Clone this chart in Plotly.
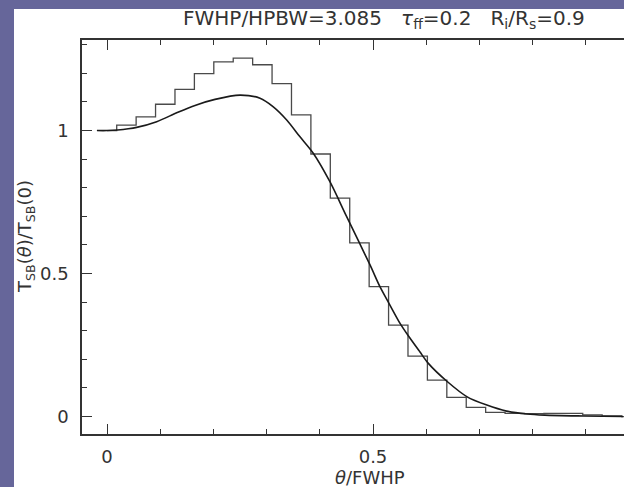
import plotly.graph_objects as go

# Histogram (binned model), bin centres in theta/FWHP
hist_x = [0.0, 0.0365, 0.073, 0.1095, 0.146, 0.1825, 0.219, 0.2555, 0.292, 0.3285,
          0.365, 0.4015, 0.438, 0.4745, 0.511, 0.5475, 0.584, 0.6205, 0.657, 0.6935,
          0.730, 0.7665, 0.803, 0.8395, 0.876, 0.9125, 0.949, 0.9855]
hist_y = [1.0, 1.019, 1.048, 1.092, 1.144, 1.199, 1.240, 1.253, 1.230, 1.164,
          1.055, 0.918, 0.764, 0.607, 0.454, 0.320, 0.2115, 0.1276, 0.067, 0.032,
          0.0147, 0.011, 0.010, 0.011, 0.011, 0.006, 0.002, 0.0]

# Smooth model curve
curve_x = [-0.019, 0.0, 0.02, 0.04, 0.0558, 0.0934, 0.131, 0.1654, 0.203, 0.25,
           0.2876, 0.3126, 0.3378, 0.3628, 0.388, 0.419, 0.4505, 0.4944, 0.513,
           0.530, 0.5508, 0.5677, 0.588, 0.604, 0.640, 0.677, 0.714, 0.751, 0.789,
           0.823, 0.895, 0.970]
curve_y = [1.0, 1.0, 1.002, 1.006, 1.011, 1.031, 1.062, 1.088, 1.109, 1.124,
           1.113, 1.083, 1.037, 0.978, 0.920, 0.821, 0.699, 0.530, 0.454,
           0.396, 0.326, 0.279, 0.2266, 0.186, 0.1217, 0.069, 0.040, 0.019, 0.009,
           0.005, 0.002, 0.0]

x_ticks = [0, 0.5]
y_ticks = [0, 0.5, 1]

INK = "#333333"
FONT = "DejaVu Sans, Liberation Sans, sans-serif"
BORDER = "#66669a"

fig = go.Figure()
fig.add_trace(go.Scatter(x=hist_x, y=hist_y, mode="lines",
                         line=dict(shape="hvh", color="#4a4a4a", width=1.3),
                         showlegend=False, hoverinfo="skip"))
fig.add_trace(go.Scatter(x=curve_x, y=curve_y, mode="lines",
                         line=dict(shape="spline", smoothing=0.8, color="#1a1a1a", width=1.6),
                         showlegend=False, hoverinfo="skip"))

L, R, T, B = 82, 0, 40, 53
W, H = 624, 487
pw, ph = W - L - R, H - T - B


def px_x(p):
    return (p - L) / pw


def px_y(p):
    return (H - B - p) / ph


fig.update_layout(
    width=W, height=H,
    margin=dict(l=L, r=R, t=T, b=B, pad=0),
    paper_bgcolor="white",
    plot_bgcolor="white",
    font=dict(family=FONT, color=INK, size=18),
    shapes=[
        dict(type="rect", xref="paper", yref="paper",
             x0=px_x(-2), x1=px_x(14), y0=px_y(H + 2), y1=px_y(-2),
             fillcolor=BORDER, line=dict(width=0), layer="below"),
        dict(type="rect", xref="paper", yref="paper",
             x0=px_x(-2), x1=px_x(W + 2), y0=px_y(9), y1=px_y(-2),
             fillcolor=BORDER, line=dict(width=0), layer="below"),
    ],
    xaxis=dict(range=[-0.047, 0.9718], tickvals=x_ticks, ticks="inside", ticklen=10,
               tickwidth=1.2, tickcolor=INK, showline=True, linecolor=INK, linewidth=1.5,
               mirror="ticks", showgrid=False, zeroline=False,
               minor=dict(dtick=0.1, tick0=0, ticks="inside", ticklen=5, tickwidth=1.2,
                          tickcolor=INK, showgrid=False),
               tickfont=dict(size=18, color=INK, family=FONT), ticklabelstandoff=6),
    yaxis=dict(range=[-0.061, 1.3166], tickvals=y_ticks, ticks="inside", ticklen=10,
               tickwidth=1.2, tickcolor=INK, showline=True, linecolor=INK, linewidth=1.5,
               mirror=False, showgrid=False, zeroline=False,
               minor=dict(dtick=0.1, tick0=0, ticks="inside", ticklen=5, tickwidth=1.2,
                          tickcolor=INK, showgrid=False),
               tickfont=dict(size=18, color=INK, family=FONT), ticklabelstandoff=8),
    annotations=[
        dict(xref="paper", yref="paper", x=px_x(384), y=px_y(19),
             xanchor="center", yanchor="middle", showarrow=False,
             text="FWHP/HPBW=3.085\u00a0\u00a0\u00a0<i>τ</i><sub>ff</sub>=0.2"
                  "\u00a0\u00a0\u00a0R<sub>i</sub>/R<sub>s</sub>=0.9",
             font=dict(size=20, color=INK, family=FONT)),
        dict(xref="paper", yref="paper", x=px_x(370), y=px_y(477),
             xanchor="center", yanchor="middle", showarrow=False,
             text="<i>θ</i>/FWHP", font=dict(size=18, color=INK, family=FONT)),
        dict(xref="paper", yref="paper", x=px_x(26), y=px_y(237),
             xanchor="center", yanchor="middle", showarrow=False, textangle=-90,
             text="T<sub>SB</sub>(<i>θ</i>)/T<sub>SB</sub>(0)",
             font=dict(size=18, color=INK, family=FONT)),
    ],
)

fig.write_html("out.html")
